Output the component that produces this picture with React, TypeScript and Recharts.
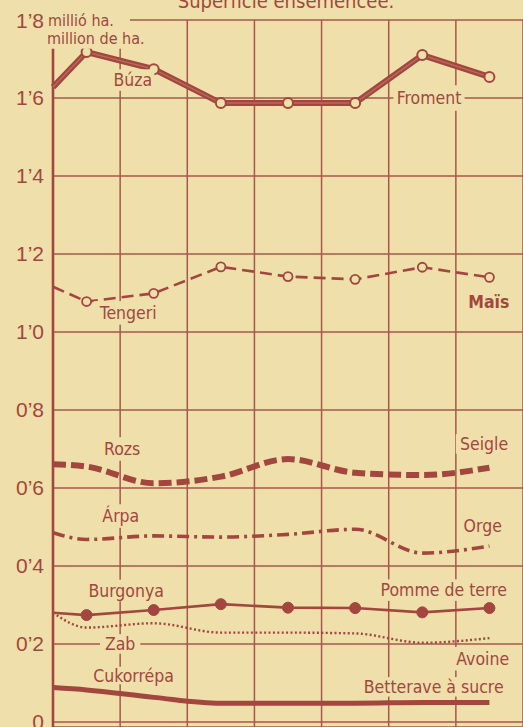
import React from "react"
import { LineChart, Line, XAxis, YAxis, CartesianGrid, ReferenceDot, ReferenceLine } from "recharts"

// periods: x position of each yearly reading (first one sits on the left edge)
const periods = [0, 0.5, 1.5, 2.5, 3.5, 4.5, 5.5, 6.5]
const xTicks = [0, 1, 2, 3, 4, 5, 6, 7]
const yTicks = [0, 0.2, 0.4, 0.6, 0.8, 1.0, 1.2, 1.4, 1.6, 1.8]

// million hectares
const wheat = [1.628, 1.718, 1.674, 1.587, 1.587, 1.587, 1.71, 1.654]
const maize = [1.116, 1.078, 1.099, 1.167, 1.142, 1.135, 1.166, 1.14]
const rye = [0.661, 0.655, 0.612, 0.629, 0.674, 0.639, 0.633, 0.652]
const barley = [0.485, 0.468, 0.477, 0.474, 0.481, 0.494, 0.433, 0.451]
const potato = [0.28, 0.274, 0.287, 0.302, 0.293, 0.292, 0.281, 0.292]
const oats = [0.28, 0.242, 0.253, 0.229, 0.229, 0.227, 0.203, 0.215]
const sugarBeet = [0.088, 0.082, 0.063, 0.048, 0.048, 0.048, 0.05, 0.05]

const data = periods.map((p, i) => ({
    p,
    wheat: wheat[i],
    maize: maize[i],
    rye: rye[i],
    barley: barley[i],
    potato: potato[i],
    oats: oats[i],
    sugarBeet: sugarBeet[i],
}))

const BG = "#efdfab"
const INK = "#a3473e"
const GRID = "#a9574b"
const NARROW = '"DejaVu Sans Condensed", "Liberation Sans Narrow", "Arial Narrow", sans-serif'

const textWidth = (t: string, size: number) => t.length * size * 0.5

function label(text: string, opts: { anchor?: "start" | "middle" | "end"; size?: number; padX?: number; padY?: number; dx?: number; weight?: number } = {}) {
    const size = opts.size ?? 17.5
    const anchor = opts.anchor ?? "middle"
    const padX = opts.padX ?? 4
    const padY = opts.padY ?? 1
    return (props: any) => {
        const x = props.cx + (opts.dx ?? 0)
        const w = textWidth(text, size)
        const left = anchor === "start" ? x : anchor === "end" ? x - w : x - w / 2
        return (
            <g>
                <rect x={left - padX} y={props.cy - size * 0.5 - padY} width={w + padX * 2} height={size + padY * 2} fill={BG} />
                <text x={x} y={props.cy} textAnchor={anchor} dominantBaseline="central" fontFamily={NARROW} fontSize={size} fontWeight={opts.weight ?? 400} fill={INK}>
                    {text}
                </text>
            </g>
        )
    }
}

const openDot = (r: number, sw: number) => (p: any) =>
    p.index === 0 ? <g key={p.index} /> : <circle key={p.index} cx={p.cx} cy={p.cy} r={r} fill={BG} stroke={INK} strokeWidth={sw} />

const fullDot = (p: any) =>
    p.index === 0 ? <g key={p.index} /> : <circle key={p.index} cx={p.cx} cy={p.cy} r={5.5} fill={INK} stroke={INK} strokeWidth={1} />

const YTick = ({ x, y, payload }: any) => {
    const v = payload.value as number
    const txt = v === 0 ? "0" : v.toFixed(1).replace(".", "’")
    return (
        <text x={x} y={y} textAnchor="end" dominantBaseline="central" fontFamily="Liberation Sans, Arial, sans-serif" fontSize={21} fill={INK}>
            {txt}
        </text>
    )
}

export default function App() {
    return (
        <div style={{ position: "relative", width: 523, height: 727, overflow: "hidden", background: BG }}>
            <style>{`body{margin:0;background:${BG}}`}</style>
            <div style={{ position: "absolute", top: -10, left: 0, width: 572, textAlign: "center", fontFamily: NARROW, fontSize: 20, lineHeight: "22px", color: INK, whiteSpace: "nowrap" }}>
                Superficie ensemencée.
            </div>
            <LineChart width={523} height={727} data={data} margin={{ top: 20, right: 0, bottom: 0, left: 0 }}>
                <CartesianGrid stroke={GRID} strokeWidth={1.5} />
                <XAxis dataKey="p" type="number" domain={[0, 7]} ticks={xTicks} hide />
                <YAxis
                    type="number"
                    domain={[-0.013, 1.8]}
                    ticks={yTicks}
                    width={53}
                    axisLine={false}
                    tickLine={false}
                    tickSize={0}
                    tickMargin={9}
                    tick={<YTick />}
                    interval={0}
                />
                <ReferenceLine x={0} stroke={INK} strokeWidth={2.6} />

                <Line dataKey="sugarBeet" type="monotone" stroke={INK} strokeWidth={5} dot={false} isAnimationActive={false} />
                <Line dataKey="oats" type="monotone" stroke={INK} strokeWidth={2.4} strokeDasharray="2 2.4" dot={false} isAnimationActive={false} />
                <Line dataKey="potato" type="linear" stroke={INK} strokeWidth={2.6} dot={fullDot} isAnimationActive={false} />
                <Line dataKey="barley" type="monotone" stroke={INK} strokeWidth={3.6} strokeDasharray="12 5 3 5" dot={false} isAnimationActive={false} />
                <Line dataKey="rye" type="monotone" stroke={INK} strokeWidth={6} strokeDasharray="13 5" dot={false} isAnimationActive={false} />
                <Line dataKey="maize" type="linear" stroke={INK} strokeWidth={2.6} strokeDasharray="12 6" dot={openDot(4.5, 1.8)} isAnimationActive={false} />
                <Line dataKey="wheat" type="linear" stroke={INK} strokeWidth={6} dot={false} isAnimationActive={false} />
                <Line dataKey="wheat" type="linear" stroke="#b86a5e" strokeWidth={1.4} dot={openDot(5, 2)} isAnimationActive={false} />

                <ReferenceDot x={0} y={1.8} r={0} ifOverflow="visible" shape={label("millió ha.", { anchor: "start", dx: -5, size: 16, padX: 2, padY: 1 })} />
                <ReferenceDot x={0} y={1.752} r={0} ifOverflow="visible" shape={label("million de ha.", { anchor: "start", dx: -6, size: 16, padX: 2, padY: 2 })} />
                <ReferenceDot x={1.19} y={1.646} r={0} shape={label("Búza", { padY: 2 })} />
                <ReferenceDot x={5.6} y={1.6} r={0} shape={label("Froment", { padX: 5, padY: 4 })} />
                <ReferenceDot x={1.12} y={1.049} r={0} shape={label("Tengeri", { padY: 3 })} />
                <ReferenceDot x={6.49} y={1.078} r={0} shape={label("Maïs", { padX: 8, padY: 6, weight: 700 })} />
                <ReferenceDot x={1.03} y={0.7} r={0} shape={label("Rozs", { padY: 3 })} />
                <ReferenceDot x={6.42} y={0.713} r={0} shape={label("Seigle", { padX: 2 })} />
                <ReferenceDot x={1.01} y={0.528} r={0} shape={label("Árpa", { padY: 3 })} />
                <ReferenceDot x={6.4} y={0.503} r={0} shape={label("Orge", { padX: 2 })} />
                <ReferenceDot x={1.09} y={0.337} r={0} shape={label("Burgonya", { padY: 2 })} />
                <ReferenceDot x={5.82} y={0.338} r={0} shape={label("Pomme de terre", { padY: 2 })} />
                <ReferenceDot x={1.0} y={0.2} r={0} shape={label("Zab", { padX: 7, padY: 1 })} />
                <ReferenceDot x={6.4} y={0.162} r={0} shape={label("Avoine", { padY: 3 })} />
                <ReferenceDot x={1.2} y={0.119} r={0} shape={label("Cukorrépa", { padY: 0 })} />
                <ReferenceDot x={5.67} y={0.09} r={0} shape={label("Betterave à sucre", { padY: 1 })} />
            </LineChart>
        </div>
    )
}
